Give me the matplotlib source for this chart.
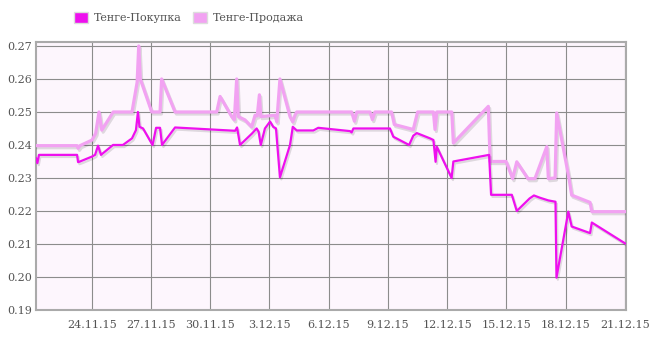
from __future__ import annotations

import datetime as dt

import matplotlib
matplotlib.use("Agg")
import matplotlib.pyplot as plt
import matplotlib.patheffects as pe
from matplotlib.patches import Patch

# Days since 21.11.2015 00:00 and rates (tenge)
BUY_DAYS = [
    0.18, 0.25, 0.33, 2.26, 2.31, 2.41, 3.02, 3.17, 3.32, 3.47, 4.08, 4.58,
    5.04, 5.24, 5.34, 5.42, 5.60, 6.08, 6.26, 6.46, 6.56, 7.22, 10.26, 10.36,
    10.51, 11.12, 11.35, 11.45, 11.56, 11.77, 12.03, 12.19, 12.33, 12.53, 13.04,
    13.18, 13.38, 14.22, 14.47, 16.08, 16.16, 16.25, 18.10, 18.27, 19.07, 19.28,
    19.46, 20.13, 20.30, 20.41, 20.47, 21.22, 21.31, 23.12, 23.22, 24.27, 24.52,
    25.17, 25.39, 25.70, 26.12, 26.48, 26.53, 27.13, 27.30, 28.23, 28.32, 30.00,
]
BUY_RATES = [
    0.2360, 0.2345, 0.2370, 0.2370, 0.2348, 0.2350, 0.2365, 0.2370, 0.2398,
    0.2370, 0.2400, 0.2400, 0.2420, 0.2445, 0.2500, 0.2455, 0.2450, 0.2400,
    0.2452, 0.2452, 0.2400, 0.2453, 0.2443, 0.2453, 0.2400, 0.2435, 0.2450,
    0.2440, 0.2400, 0.2450, 0.2471, 0.2455, 0.2450, 0.2302, 0.2400, 0.2455,
    0.2444, 0.2444, 0.2452, 0.2442, 0.2438, 0.2450, 0.2450, 0.2425, 0.2400,
    0.2428, 0.2436, 0.2420, 0.2415, 0.2349, 0.2395, 0.2300, 0.2350, 0.2370,
    0.2249, 0.2249, 0.2200, 0.2238, 0.2247, 0.2240, 0.2232, 0.2228, 0.1998,
    0.2198, 0.2153, 0.2133, 0.2165, 0.2102,
]

SELL_DAYS = [
    0.18, 2.26, 2.31, 2.41, 3.02, 3.20, 3.37, 3.51, 4.09, 5.04, 5.30, 5.38,
    5.46, 6.04, 6.46, 6.54, 7.22, 9.33, 9.50, 10.09, 10.22, 10.34, 10.42,
    10.76, 11.10, 11.27, 11.38, 11.49, 11.56, 12.28, 12.37, 12.53, 13.04,
    13.18, 13.29, 13.38, 16.16, 16.30, 16.42, 17.09, 17.21, 17.34, 18.18,
    18.32, 19.28, 19.50, 20.30, 20.38, 20.47, 21.23, 21.31, 23.08, 23.17,
    23.98, 24.31, 24.52, 25.09, 25.44, 26.04, 26.12, 26.46, 26.54, 27.16,
    27.30, 28.23, 28.32, 30.00,
]
SELL_RATES = [
    0.2398, 0.2398, 0.2390, 0.2398, 0.2415, 0.2435, 0.2500, 0.2445, 0.2500,
    0.2500, 0.2590, 0.2700, 0.2600, 0.2500, 0.2500, 0.2600, 0.2500, 0.2500,
    0.2547, 0.2486, 0.2476, 0.2600, 0.2486, 0.2476, 0.2455, 0.2490, 0.2488,
    0.2552, 0.2486, 0.2490, 0.2470, 0.2600, 0.2486, 0.2470, 0.2490, 0.2500,
    0.2500, 0.2472, 0.2500, 0.2500, 0.2477, 0.2500, 0.2500, 0.2462, 0.2447,
    0.2500, 0.2500, 0.2447, 0.2500, 0.2500, 0.2406, 0.2517, 0.2350, 0.2350,
    0.2298, 0.2349, 0.2298, 0.2298, 0.2395, 0.2298, 0.2300, 0.2497, 0.2300,
    0.2248, 0.2226, 0.2198, 0.2198,
]

TICK_DAYS = [3, 6, 9, 12, 15, 18, 21, 24, 27, 30]
TICK_LABELS = [
    "24.11.15", "27.11.15", "30.11.15", "3.12.15", "6.12.15",
    "9.12.15", "12.12.15", "15.12.15", "18.12.15", "21.12.15",
]
Y_TICKS = [0.19, 0.20, 0.21, 0.22, 0.23, 0.24, 0.25, 0.26, 0.27]

BASE = dt.datetime(2015, 11, 21)
BUY_COLOR = "#ee10ee"
SELL_COLOR = "#f2a2f2"
TEXT_COLOR = "#545454"


def to_dates(days: list[float]) -> list[dt.datetime]:
    return [BASE + dt.timedelta(days=d) for d in days]


plt.rcParams["font.family"] = ["DejaVu Serif"]

fig = plt.figure(figsize=(6.7, 3.49), dpi=100)
ax = fig.add_axes([36 / 670, 39 / 349, 590 / 670, 268 / 349])
ax.set_facecolor("#fdf6fd")

shadow = [pe.SimpleLineShadow(offset=(1.0, -1.5), shadow_color="black", alpha=0.12),
          pe.Normal()]
ax.plot(to_dates(SELL_DAYS), SELL_RATES, color=SELL_COLOR, lw=2.3,
        path_effects=shadow, zorder=3)
ax.plot(to_dates(BUY_DAYS), BUY_RATES, color=BUY_COLOR, lw=1.6,
        path_effects=shadow, zorder=4)

ax.set_xlim(to_dates([0.18])[0], to_dates([30.05])[0])
ax.set_ylim(0.19, 0.2712)
ax.set_xticks(to_dates(TICK_DAYS))
ax.set_xticklabels(TICK_LABELS)
ax.set_yticks(Y_TICKS)
ax.set_yticklabels([f"{v:.2f}" for v in Y_TICKS])
ax.tick_params(length=0, labelsize=8, labelcolor=TEXT_COLOR)
ax.tick_params(axis="x", pad=7)
ax.tick_params(axis="y", pad=3)
ax.grid(True, color="#8c8c8c", lw=0.8)
ax.set_axisbelow(True)
for spine in ax.spines.values():
    spine.set_color("#aaaaaa")
    spine.set_linewidth(1.5)

handles = [
    Patch(facecolor=BUY_COLOR, edgecolor="#dddddd", label="Тенге-Покупка"),
    Patch(facecolor=SELL_COLOR, edgecolor="#dddddd", label="Тенге-Продажа"),
]
fig.legend(handles=handles, loc="center", bbox_to_anchor=(0.282, 0.95), ncol=2,
           frameon=False, fontsize=8, labelcolor=TEXT_COLOR, handlelength=1.3,
           handleheight=1.1, handletextpad=0.5, columnspacing=1.0)

fig.savefig("out.png", dpi=100)
